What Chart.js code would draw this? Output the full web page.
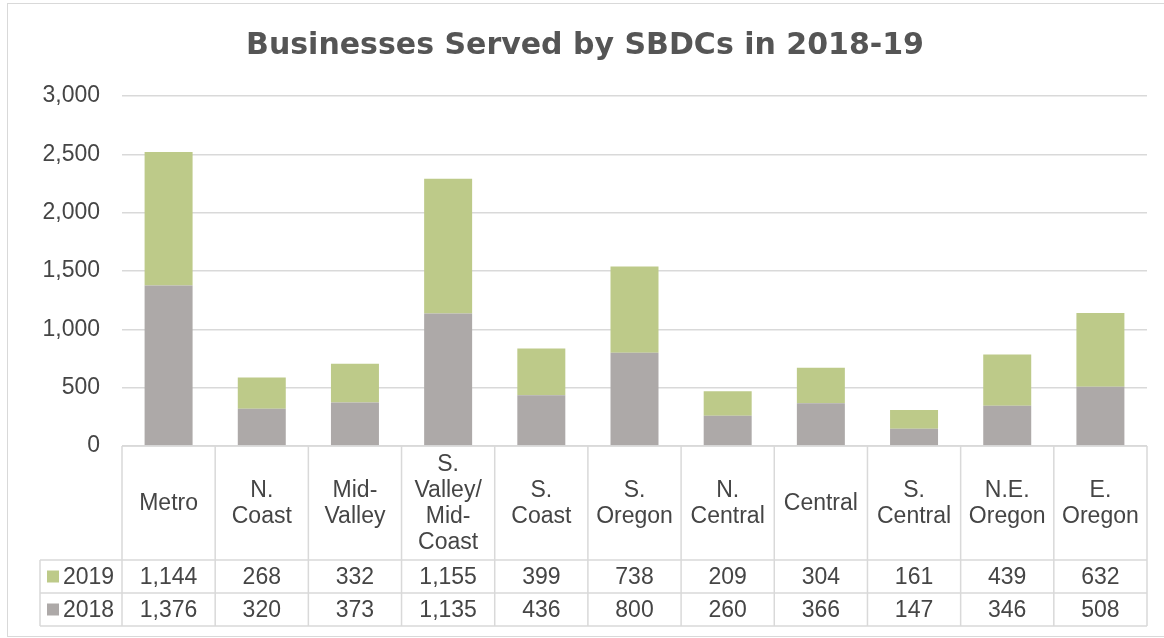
<!DOCTYPE html>
<html>
<head>
<meta charset="utf-8">
<script src="https://cdn.jsdelivr.net/npm/chart.js@4.4.0/dist/chart.umd.min.js"></script>
<style>
  html, body { margin: 0; padding: 0; background: #ffffff; }
  #wrap { width: 1164px; height: 638px; position: relative; }
</style>
</head>
<body>
<div id="wrap"><canvas id="c" width="1164" height="638"></canvas></div>
<script>
// ---- data ----
const categories = [
  ['Metro'], ['N.', 'Coast'], ['Mid-', 'Valley'], ['S.', 'Valley/', 'Mid-', 'Coast'],
  ['S.', 'Coast'], ['S.', 'Oregon'], ['N.', 'Central'], ['Central'],
  ['S.', 'Central'], ['N.E.', 'Oregon'], ['E.', 'Oregon']
];
const seriesNames = ['2018', '2019'];
const values2018 = [1376, 320, 373, 1135, 436, 800, 260, 366, 147, 346, 508];
const values2019 = [1144, 268, 332, 1155, 399, 738, 209, 304, 161, 439, 632];
const yTicks = [0, 500, 1000, 1500, 2000, 2500, 3000];
const titleText = 'Businesses Served by SBDCs in 2018-19';

const COLOR_2018 = '#ada9a8';
const COLOR_2019 = '#bdca89';
const GRID = '#d9d9d9';
const TEXT = '#454545';
const FONT = '"Liberation Sans", Arial, sans-serif';

const fmt = v => v.toLocaleString('en-US');

const tablePlugin = {
  id: 'dataTable',
  afterDraw(chart) {
    const ctx = chart.ctx;
    const ca = chart.chartArea;
    const n = categories.length;
    const w = (ca.right - ca.left) / n;
    const y0 = ca.bottom, y1 = 560, y2 = 593, y3 = 626;
    const legendLeft = 40;
    ctx.save();
    // outer frame
    ctx.strokeStyle = GRID;
    ctx.lineWidth = 1;
    ctx.strokeRect(7.5, 3.5, 1170, 633);
    // grid of table
    ctx.strokeStyle = GRID;
    ctx.lineWidth = 1.5;
    ctx.beginPath();
    ctx.moveTo(ca.left, y0); ctx.lineTo(ca.right, y0);
    [y1, y2, y3].forEach(y => { ctx.moveTo(legendLeft, y); ctx.lineTo(ca.right, y); });
    for (let i = 0; i <= n; i++) {
      const x = ca.left + i * w;
      ctx.moveTo(x, y0); ctx.lineTo(x, y3);
    }
    ctx.moveTo(legendLeft, y1); ctx.lineTo(legendLeft, y3);
    ctx.stroke();

    // header labels
    ctx.fillStyle = TEXT;
    ctx.font = '23px ' + FONT;
    ctx.textAlign = 'center';
    ctx.textBaseline = 'middle';
    const lh = 26;
    const hc = (y0 + y1) / 2;
    categories.forEach((lines, i) => {
      const cx = ca.left + (i + 0.5) * w;
      const start = hc - (lines.length - 1) * lh / 2;
      lines.forEach((t, j) => ctx.fillText(t, cx, start + j * lh + 1));
    });

    // data rows
    const rows = [
      { name: seriesNames[1], vals: values2019, color: COLOR_2019, yc: (y1 + y2) / 2 },
      { name: seriesNames[0], vals: values2018, color: COLOR_2018, yc: (y2 + y3) / 2 }
    ];
    rows.forEach(r => {
      ctx.fillStyle = r.color;
      ctx.fillRect(47, r.yc - 6, 12, 12);
      ctx.fillStyle = TEXT;
      ctx.textAlign = 'left';
      ctx.fillText(r.name, 63, r.yc + 1);
      ctx.textAlign = 'center';
      r.vals.forEach((v, i) => {
        ctx.fillText(fmt(v), ca.left + (i + 0.5) * w, r.yc + 1);
      });
    });
    ctx.restore();
  }
};

new Chart(document.getElementById('c'), {
  type: 'bar',
  data: {
    labels: categories.map(l => l.join(' ')),
    datasets: [
      { label: seriesNames[0], data: values2018, backgroundColor: COLOR_2018, borderWidth: 0,
        categoryPercentage: 1, barPercentage: 0.515 },
      { label: seriesNames[1], data: values2019, backgroundColor: COLOR_2019, borderWidth: 0,
        categoryPercentage: 1, barPercentage: 0.515 }
    ]
  },
  options: {
    responsive: false,
    devicePixelRatio: 1,
    animation: false,
    layout: { padding: { left: 23, right: 17, top: 0, bottom: 192 } },
    plugins: {
      legend: { display: false },
      tooltip: { enabled: false },
      title: {
        display: true,
        text: titleText,
        color: '#555555',
        font: { family: '"DejaVu Sans", sans-serif', size: 30, weight: 'bold', lineHeight: 1.2 },
        padding: { top: 28, bottom: 32 }
      }
    },
    scales: {
      x: {
        stacked: true,
        display: false
      },
      y: {
        stacked: true,
        min: yTicks[0],
        max: yTicks[yTicks.length - 1],
        afterFit(scale) { scale.width = 99; },
        afterBuildTicks(scale) { scale.ticks = yTicks.map(v => ({ value: v })); },
        ticks: {
          color: TEXT,
          font: { family: FONT, size: 23 },
          padding: 22,
          callback: v => fmt(v)
        },
        grid: { color: GRID, lineWidth: 1.5, drawTicks: false },
        border: { display: false }
      }
    }
  },
  plugins: [tablePlugin]
});
</script>
</body>
</html>
